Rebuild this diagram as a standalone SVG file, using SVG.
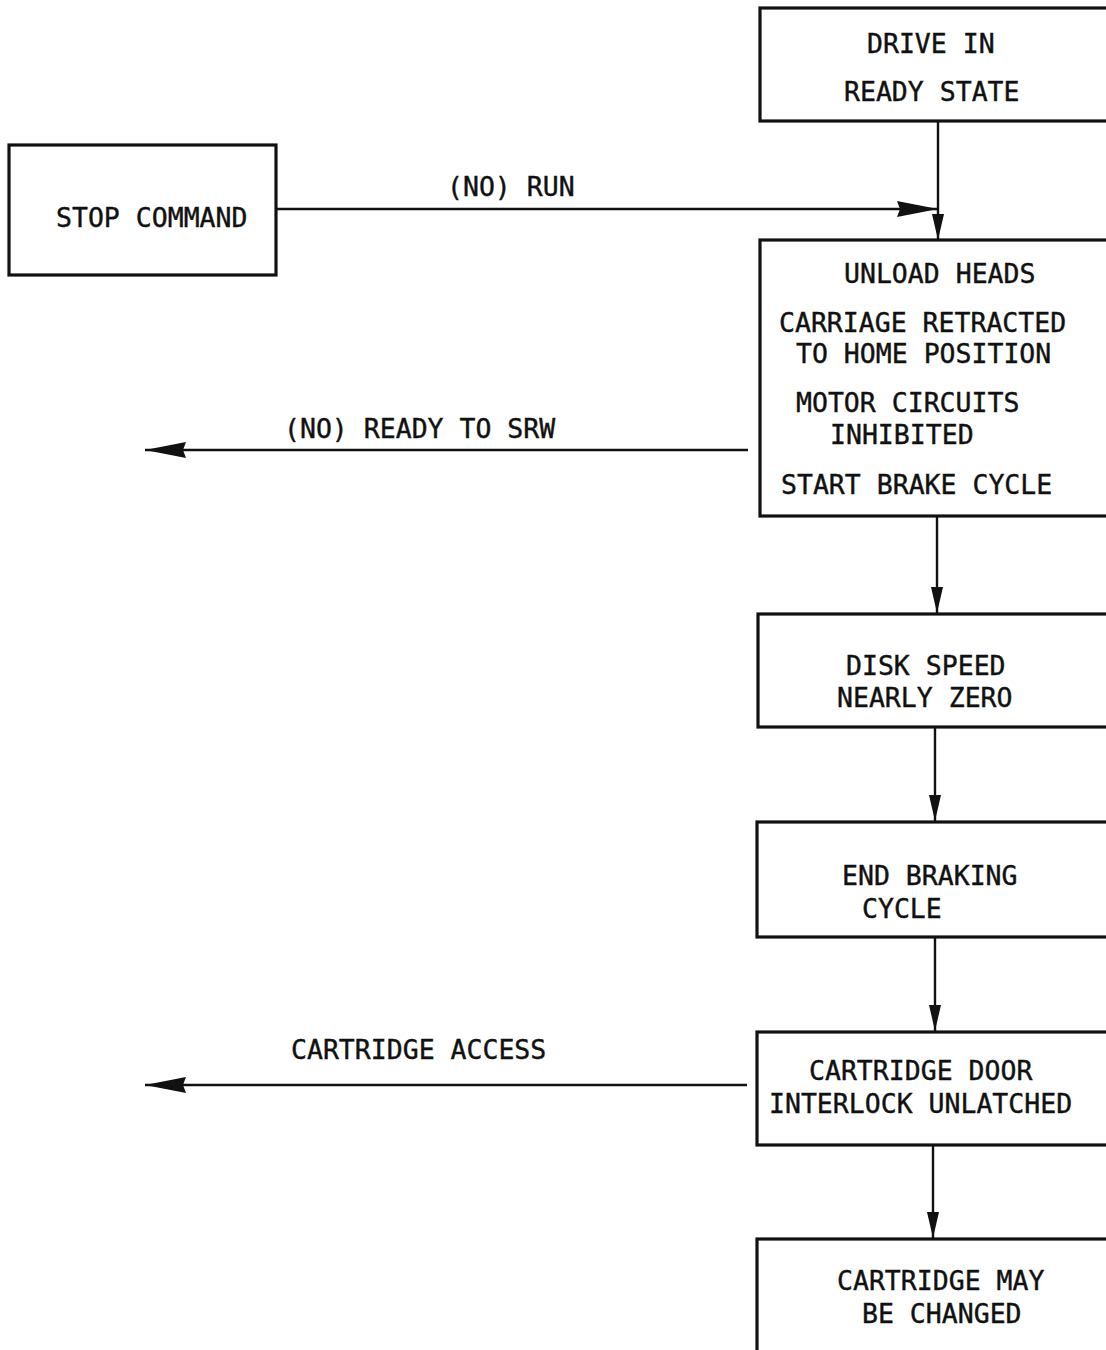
<svg xmlns="http://www.w3.org/2000/svg" width="1106" height="1350" viewBox="0 0 1106 1350">
<style>
.box{fill:#fff;stroke:#111;stroke-width:3.2}
.t{font-family:"DejaVu Sans Mono","Liberation Mono",monospace;font-size:26.5px;fill:#111;stroke:#111;stroke-width:0.4}
.c{fill:none;stroke:#111;stroke-width:2.4}
</style>
<defs>
<marker id="sm" markerUnits="userSpaceOnUse" markerWidth="28" markerHeight="14" refX="26" refY="6.5" orient="auto" viewBox="0 0 28 13">
<path d="M0,0.5 L26,6.5 L0,12.5 Z" fill="#111"/>
</marker>
<marker id="lg" markerUnits="userSpaceOnUse" markerWidth="42" markerHeight="18" refX="41" refY="8.5" orient="auto" viewBox="0 0 42 17">
<path d="M0,0.5 L41,8.5 L0,16.5 L3,8.5 Z" fill="#111"/>
</marker>
</defs>
<rect width="1106" height="1350" fill="#fff"/>
<g id="connectors">
<path class="c" d="M276,209 L938,209" marker-end="url(#lg)"/>
<path class="c" d="M938,122 L938,240" marker-end="url(#sm)"/>
<path class="c" d="M937,516 L937,613" marker-end="url(#sm)"/>
<path class="c" d="M935,727 L935,821" marker-end="url(#sm)"/>
<path class="c" d="M935,937 L935,1031" marker-end="url(#sm)"/>
<path class="c" d="M933,1145 L933,1238" marker-end="url(#sm)"/>
<path class="c" d="M748,450 L145,450" marker-end="url(#lg)"/>
<path class="c" d="M747,1085 L145,1085" marker-end="url(#lg)"/>
<text class="t" x="447" y="196">(NO) RUN</text>
<text class="t" x="284" y="438">(NO) READY TO SRW</text>
<text class="t" x="291" y="1059">CARTRIDGE ACCESS</text>
</g>
<g id="drive-ready">
<rect class="box" x="760" y="8" width="360" height="113"/>
<text class="t" x="867" y="53">DRIVE IN</text>
<text class="t" x="844" y="101">READY STATE</text>
</g>
<g id="stop-command">
<rect class="box" x="9" y="145" width="267" height="130"/>
<text class="t" x="56" y="227">STOP COMMAND</text>
</g>
<g id="unload-heads">
<rect class="box" x="760" y="240" width="360" height="276"/>
<text class="t" x="844" y="283">UNLOAD HEADS</text>
<text class="t" x="779" y="332">CARRIAGE RETRACTED</text>
<text class="t" x="796" y="363">TO HOME POSITION</text>
<text class="t" x="796" y="412">MOTOR CIRCUITS</text>
<text class="t" x="830" y="444">INHIBITED</text>
<text class="t" x="781" y="494">START BRAKE CYCLE</text>
</g>
<g id="disk-speed">
<rect class="box" x="758" y="614" width="360" height="113"/>
<text class="t" x="846" y="675">DISK SPEED</text>
<text class="t" x="837" y="707">NEARLY ZERO</text>
</g>
<g id="end-braking">
<rect class="box" x="757" y="822" width="360" height="115"/>
<text class="t" x="842" y="885">END BRAKING</text>
<text class="t" x="862" y="918">CYCLE</text>
</g>
<g id="door-interlock">
<rect class="box" x="757" y="1032" width="360" height="113"/>
<text class="t" x="809" y="1080">CARTRIDGE DOOR</text>
<text class="t" x="769" y="1113">INTERLOCK UNLATCHED</text>
</g>
<g id="may-change">
<rect class="box" x="757" y="1239" width="360" height="130"/>
<text class="t" x="837" y="1290">CARTRIDGE MAY</text>
<text class="t" x="862" y="1323">BE CHANGED</text>
</g>
</svg>
